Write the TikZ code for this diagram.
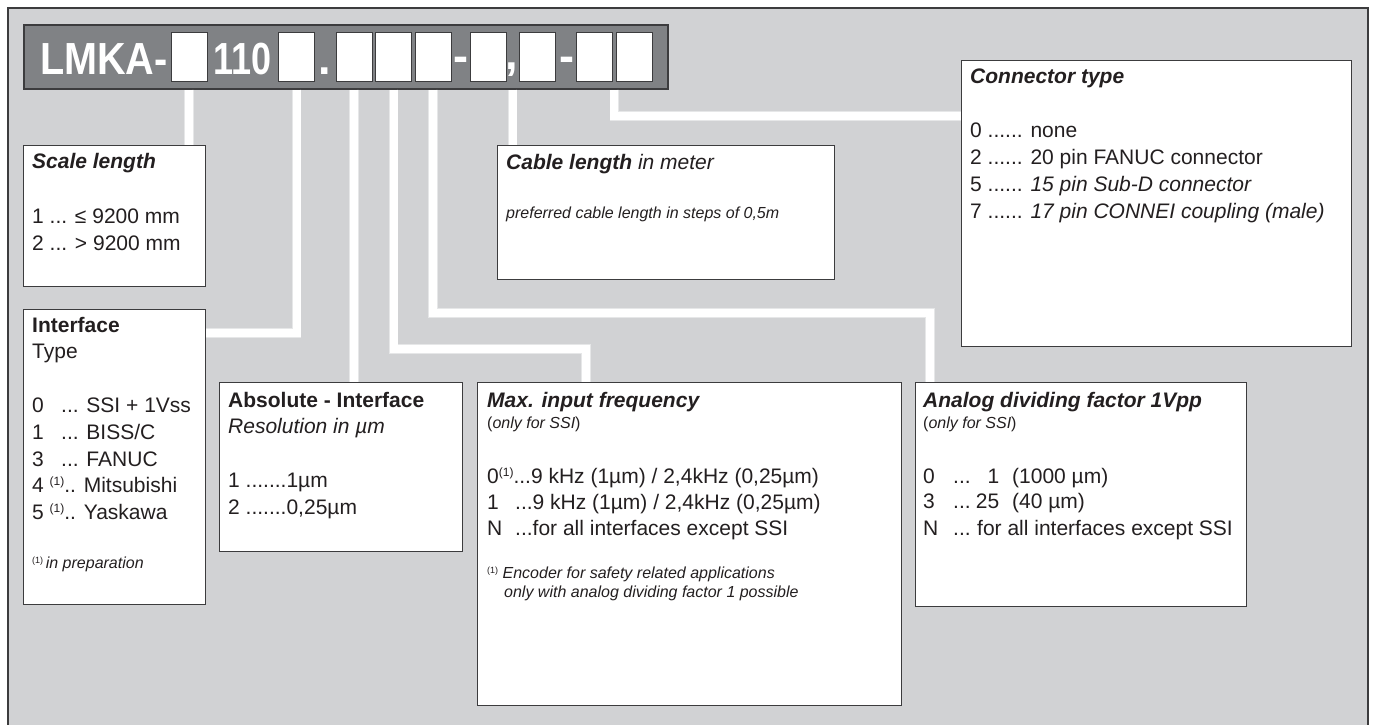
\documentclass[tikz,border=0pt]{standalone}
\usepackage{fontspec}
\setmainfont{Liberation Sans}
\usetikzlibrary{calc}
\definecolor{bgc}{HTML}{D1D2D4}
\definecolor{barc}{HTML}{808285}
\definecolor{framec}{HTML}{3C3C3E}
\definecolor{txtc}{HTML}{231F20}
\definecolor{edgec}{HTML}{E6E7E8}
\newcommand{\fnmk}[1]{\raisebox{0.3em}{\fontsize{#1}{#1}\selectfont(1)}}
\newcommand{\bodyf}{\fontsize{21}{26.7}\selectfont}
\newcommand{\smallf}{\fontsize{16}{19}\selectfont}
\begin{document}
\begin{tikzpicture}[x=1pt,y=-1pt,
  frm/.style={draw=framec, line width=2pt, fill=bgc, rectangle, inner sep=0pt, anchor=north west},
  barbox/.style={draw=framec, line width=1.5pt, fill=barc, rectangle, inner sep=0pt, anchor=north west},
  digit/.style={draw=framec, line width=1.3pt, fill=white, rectangle, inner sep=0pt, anchor=north west, minimum width=36pt, minimum height=49pt},
  infobox/.style={draw=framec, line width=1.2pt, fill=white, rectangle, inner sep=0pt, anchor=north west},
  wire/.style={draw=edgec, double=white, double distance=8pt, line width=0.8pt},
  head/.style={text=white, inner sep=0pt, anchor=base west, font=\fontsize{45}{45}\selectfont\bfseries},
  txt/.style={text=txtc, inner sep=0pt, anchor=base west, font=\bodyf}]
\useasboundingbox (0,0) rectangle (1373,724);
\fill[white] (0,0) rectangle (1373,724);
\node[frm, minimum width=1360pt, minimum height=740pt] (frame) at (7,7) {};

% info boxes
\node[infobox, minimum width=182pt, minimum height=141pt] (scale) at (23,145) {};
\node[infobox, minimum width=182pt, minimum height=295pt] (iface) at (23,309) {};
\node[infobox, minimum width=243pt, minimum height=169pt] (abs) at (219,382) {};
\node[infobox, minimum width=337pt, minimum height=134pt] (cable) at (497,145) {};
\node[infobox, minimum width=424pt, minimum height=323pt] (maxf) at (477,382) {};
\node[infobox, minimum width=331pt, minimum height=224pt] (analog) at (915,382) {};
\node[infobox, minimum width=390pt, minimum height=286pt] (ctype) at (961,60) {};

% header bar
\node[barbox, minimum width=644pt, minimum height=64pt] (bar) at (23,24) {};
\node[digit] (b1) at (170.5,32) {};
\node[digit] (b2) at (278,32) {};
\node[digit] (b3) at (335.5,32) {};
\node[digit] (b4) at (375,32) {};
\node[digit] (b5) at (414.5,32) {};
\node[digit] (b6) at (469.5,32) {};
\node[digit] (b7) at (518.5,32) {};
\node[digit] (b8) at (576,32) {};
\node[digit] (b9) at (615.5,32) {};
\node[head] (hl) at (40,74) {\scalebox{0.88}[1]{LMKA-}};
\node[head] (hn) at (213,74) {\scalebox{0.8}[1]{110}};
\node[head, anchor=base] (hd) at (325,74) {.};
\node[head, anchor=base] (hh1) at (460.5,71) {-};
\node[head, anchor=base] (hc) at (511.5,69) {,};
\node[head, anchor=base] (hh2) at (566.5,71) {-};

% connectors
\coordinate (m67) at ($(b6.south)!0.5!(b7.south)$);
\coordinate (m89) at ($(b8.south)!0.5!(b9.south)$);
\coordinate (k4) at (586,349);
\coordinate (k5) at (930,313);
\draw[wire] (b1.south |- bar.south) -- (b1.south |- scale.north);
\draw[wire] (b2.south |- bar.south) |- ([yshift=-24pt]iface.north east);
\draw[wire] (b3.south |- bar.south) -- (b3.south |- abs.north);
\draw[wire] (b4.south |- bar.south) |- (k4) -- (k4 |- maxf.north);
\draw[wire] (b5.south |- bar.south) |- (k5) -- (k5 |- analog.north);
\draw[wire] (m67 |- bar.south) -- (m67 |- cable.north);
\draw[wire] (m89 |- bar.south) |- ([yshift=-56pt]ctype.north west);

% Scale length
\node[txt] (s0) at (32,168) {\textbf{\textit{Scale length}}};
\node[txt] (s1) at (32,223) {1 ... ≤ 9200 mm};
\node[txt] (s2) at (32,250) {2 ... > 9200 mm};

% Interface
\node[txt] (i0) at (32,332) {\textbf{Interface}};
\node[txt] (i1) at (32,358) {Type};
\node[txt] (i2) at (32,412) {\makebox[29pt][l]{0}... SSI + 1Vss};
\node[txt] (i3) at (32,439) {\makebox[29pt][l]{1}... BISS/C};
\node[txt] (i4) at (32,466) {\makebox[29pt][l]{3}... FANUC};
\node[txt] (i5) at (32,492) {4 \fnmk{12}.. Mitsubishi};
\node[txt] (i6) at (32,519) {5 \fnmk{12}.. Yaskawa};
\node[txt, font=\smallf] (i7) at (32,568) {\fnmk{9}\,\textit{in preparation}};

% Absolute
\node[txt] (a0) at (228,407) {\textbf{Absolute - Interface}};
\node[txt] (a1) at (228,433) {\textit{Resolution in µm}};
\node[txt] (a2) at (228,487) {1 .......1µm};
\node[txt] (a3) at (228,514) {2 .......0,25µm};

% Cable
\node[txt] (c0) at (506,169) {\textbf{\textit{Cable length}} \textit{in meter}};
\node[txt, font=\smallf] (c1) at (506,218) {\textit{preferred cable length in steps of 0,5m}};

% Max input frequency
\node[txt] (f0) at (487,407) {\textbf{\textit{Max. input frequency}}};
\node[txt, font=\smallf] (f1) at (487,428) {(\textit{only for SSI})};
\node[txt] (f2) at (487,483) {0\fnmk{12}...9 kHz (1µm) / 2,4kHz (0,25µm)};
\node[txt] (f3) at (487,509) {\makebox[28pt][l]{1}...9 kHz (1µm) / 2,4kHz (0,25µm)};
\node[txt] (f4) at (487,535) {\makebox[28pt][l]{N}...for all interfaces except SSI};
\node[txt, font=\smallf] (f5) at (487,578) {\fnmk{9}\ \textit{Encoder for safety related applications}};
\node[txt, font=\smallf] (f6) at (504,597) {\textit{only with analog dividing factor 1 possible}};

% Analog
\node[txt] (g0) at (923,407) {\textbf{\textit{Analog dividing factor 1Vpp}}};
\node[txt, font=\smallf] (g1) at (923,428) {(\textit{only for SSI})};
\node[txt] (g2) at (923,483) {\makebox[30pt][l]{0}\makebox[24pt][l]{...}\makebox[22pt][r]{1}\hspace{13pt}(1000 µm)};
\node[txt] (g3) at (923,508) {\makebox[30pt][l]{3}\makebox[24pt][l]{...}\makebox[22pt][r]{25}\hspace{13pt}(40 µm)};
\node[txt] (g4) at (923,535) {\makebox[30pt][l]{N}\makebox[24pt][l]{...}for all interfaces except SSI};

% Connector type
\node[txt] (t0) at (970,83) {\textbf{\textit{Connector type}}};
\node[txt] (t1) at (970,137) {0 ...... none};
\node[txt] (t2) at (970,164) {2 ...... 20 pin FANUC connector};
\node[txt] (t3) at (970,191) {5 ...... \textit{15 pin Sub-D connector}};
\node[txt] (t4) at (970,218) {7 ...... \textit{17 pin CONNEI coupling (male)}};
\end{tikzpicture}
\end{document}
